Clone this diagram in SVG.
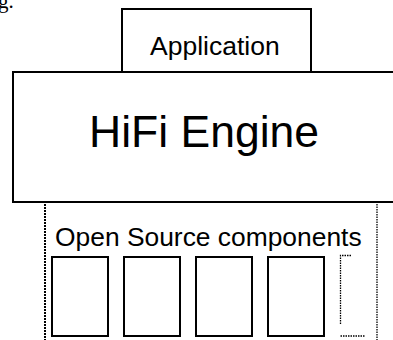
<svg xmlns="http://www.w3.org/2000/svg" width="393" height="340" viewBox="0 0 393 340">
<style>
.box{fill:#fff;stroke:#000;stroke-width:2}
.t{font-family:"Liberation Sans",Arial,sans-serif;fill:#000}
.dot{fill:none;stroke:#000;stroke-width:2;stroke-dasharray:2 1}
.dot2{fill:none;stroke:#000;stroke-width:1.3;stroke-dasharray:1.5 1}
</style>
<rect width="393" height="340" fill="#fff"/>
<text x="-2" y="8" font-family="Liberation Serif,serif" font-size="21">g.</text>
<g id="connectors">
<path class="dot" d="M45 204V340"/>
<path class="dot2" d="M377 204V340"/>
</g>
<g id="application">
<rect class="box" x="122" y="9" width="189" height="63"/>
<text class="t" x="150" y="55" font-size="26.5">Application</text>
</g>
<g id="hifi-engine">
<rect class="box" x="13" y="72" width="384" height="130"/>
<text class="t" x="89" y="147" font-size="44.5">HiFi Engine</text>
</g>
<g id="open-source">
<text class="t" x="55" y="246" font-size="26.4">Open Source components</text>
<rect class="box" x="52" y="257" width="56" height="79"/>
<rect class="box" x="124" y="257" width="56" height="79"/>
<rect class="box" x="196" y="257" width="56" height="79"/>
<rect class="box" x="268" y="257" width="56" height="79"/>
<path class="dot2" d="M351 255.5H340.5V325M340.5 336H365"/>
</g>
</svg>
